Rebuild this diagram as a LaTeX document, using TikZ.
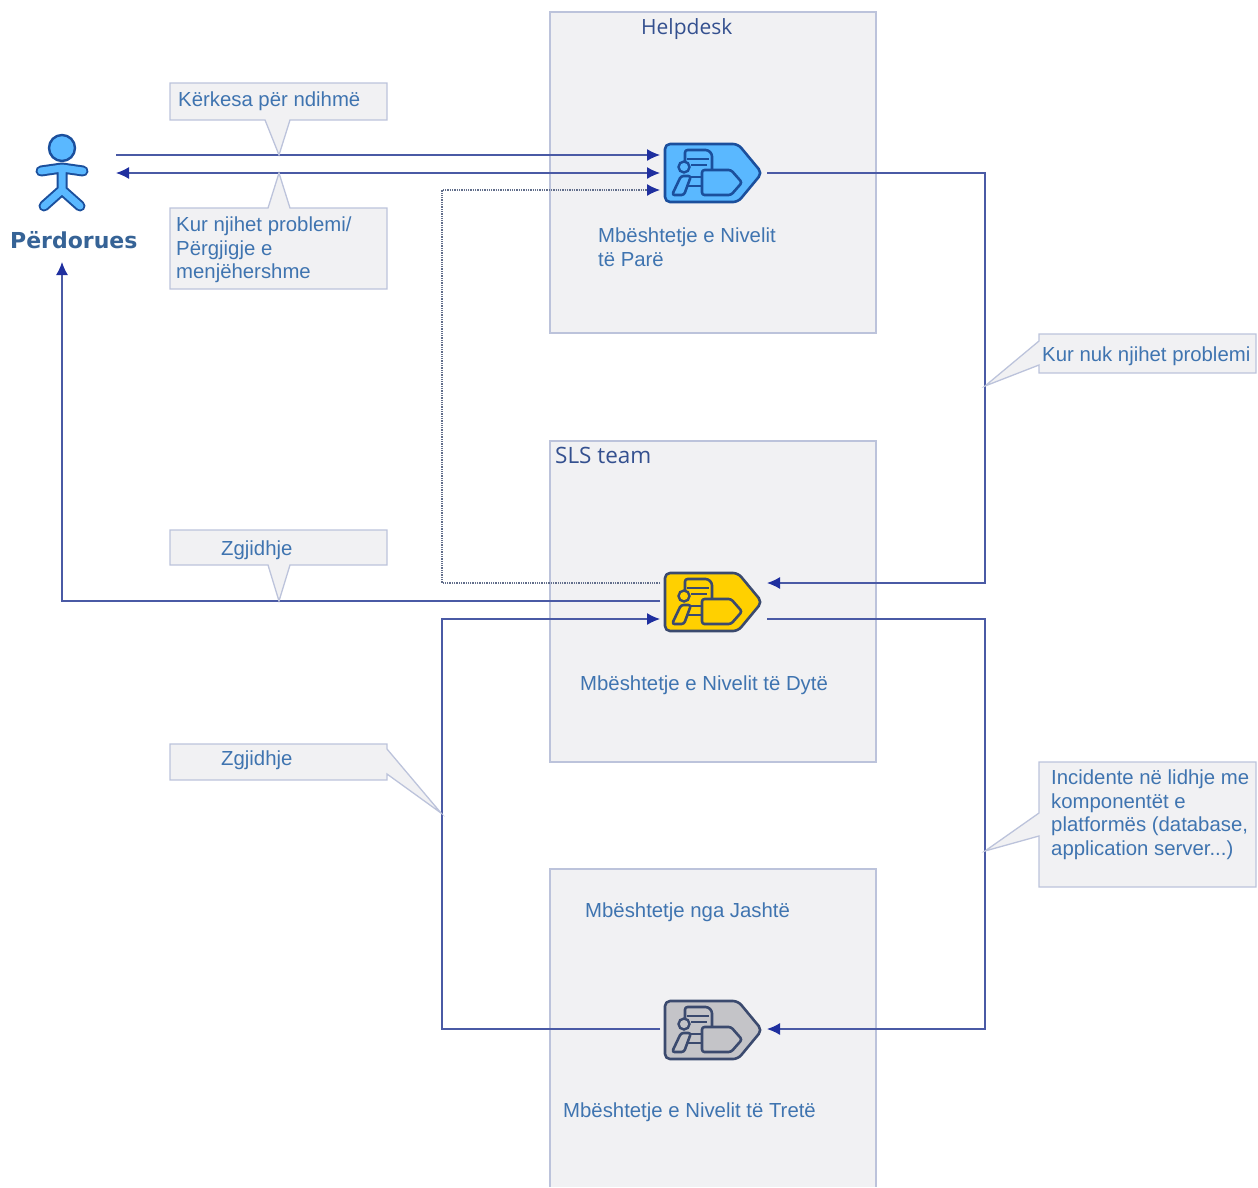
\documentclass[tikz,border=0pt]{standalone}
\usepackage{fontspec}
\setmainfont{Liberation Sans}
\newfontfamily\headfont{Open Sans}
\newfontfamily\userfont{DejaVu Sans}
\usetikzlibrary{arrows.meta}
\definecolor{txtblue}{HTML}{3F74B0}
\definecolor{headblue}{HTML}{34508F}
\definecolor{boxfill}{HTML}{F1F1F3}
\definecolor{boxline}{HTML}{BCC3DB}
\definecolor{wireblue}{HTML}{4A5AA5}
\definecolor{tipblue}{HTML}{1F2F9F}
\definecolor{iconblue}{HTML}{5AB8FF}
\definecolor{iconline}{HTML}{1B4F9C}
\definecolor{iconyellow}{HTML}{FFD000}
\definecolor{icongrey}{HTML}{C4C4C8}
\definecolor{darkline}{HTML}{3B4A6E}
\tikzset{
  x=1pt,y=-1pt,
  panel/.style={fill=boxfill,draw=boxline,line width=1.3pt},
  callout/.style={fill=boxfill,draw=boxline,line width=1.3pt,line join=miter},
  label/.style={text=txtblue,anchor=west,inner sep=0pt,font=\fontsize{20.35}{23.5}\selectfont,align=left},
  head/.style={text=headblue,anchor=west,inner sep=0pt,font=\headfont\fontsize{21}{24}\selectfont},
  wire/.style={draw=wireblue,line width=1.3pt},
  wiretip/.style={wire,-{Latex[length=13pt,width=12pt,color=tipblue]}},
  wiretwotips/.style={wire,{Latex[length=13pt,width=12pt,color=tipblue]}-{Latex[length=13pt,width=12pt,color=tipblue]}},
  dottedwire/.style={wire,densely dotted,draw=darkline!80!white,-{Latex[length=13pt,width=12pt,color=tipblue]}},
  iconbody/.style={line width=2.6pt,line join=round,rounded corners=2.5pt},
  pics/support/.style n args={2}{code={
    \draw[iconbody,fill=#1,draw=#2,rounded corners=5pt] (0,0) -- (73,0) -- (97,29) -- (73,58) -- (0,58) -- cycle;
    \draw[iconbody,draw=#2] (20,22) -- (20,6) -- (43,6) -- (47,10) -- (47,26);
    \draw[line width=2.2pt,draw=#2] (22,15) -- (44,15) (26,21) -- (42,21);
    \draw[line width=2.2pt,draw=#2] (25,33) -- (37,33) (22,42) -- (37,42);
    \draw[iconbody,draw=#2,fill=#1] (16,32) -- (7,51) -- (19,51) -- (26,32) -- cycle;
    \draw[line width=2.4pt,draw=#2,fill=#1] (19,23) circle[radius=5.5];
    \draw[iconbody,draw=#2,fill=#1] (37,26) -- (66,26) -- (77,38.5) -- (66,51) -- (37,51) -- cycle;
  }}
}
\begin{document}
\begin{tikzpicture}
\useasboundingbox (0,0) rectangle (1258,1187);
% panels
\path[panel] (550,12) rectangle (876,333);
\path[panel] (550,441) rectangle (876,762);
\draw[panel] (550,1187) -- (550,869) -- (876,869) -- (876,1187);
% anchors for the connectors
\coordinate (userR1) at (116,155);
\coordinate (userR2) at (116,173);
\coordinate (userB) at (62,262);
\coordinate (h1) at (660,155);
\coordinate (h2) at (660,173);
\coordinate (h3) at (660,190);
\coordinate (hOut) at (767,173);
\coordinate (s1) at (660,583);
\coordinate (s2) at (660,601);
\coordinate (s3) at (660,619);
\coordinate (sIn) at (767,583);
\coordinate (sOut) at (767,619);
\coordinate (tL) at (660,1029);
\coordinate (tIn) at (767,1029);
\coordinate (railR1) at (985,173);
\coordinate (railR2) at (985,619);
\coordinate (railL1) at (442,190);
\coordinate (railL2) at (442,619);
% connectors
\draw[wiretip] (userR1) -- (h1);
\draw[wiretwotips] (h2) -- (userR2);
\draw[dottedwire] (s1) -| (railL1) -- (h3);
\draw[wiretip] (hOut) -| (railR1) |- (sIn);
\draw[wiretip] (s2) -| (userB);
\draw[wiretip] (sOut) -| (railR2) |- (tIn);
\draw[wiretip] (tL) -| (railL2) -- (s3);
% icons
\pic at (665,144) {support={iconblue}{iconline}};
\pic at (665,573) {support={iconyellow}{darkline}};
\pic at (665,1001) {support={icongrey}{darkline}};
% person
\draw[iconline,line width=11pt,line cap=round,line join=round] (41,171) -- (62,168) -- (83,171) (62,168) -- (62,190) (44,206) -- (62,190) -- (80,206);
\draw[iconblue,line width=7pt,line cap=round,line join=round] (41,171) -- (62,168) -- (83,171) (62,168) -- (62,190) (44,206) -- (62,190) -- (80,206);
\draw[iconline,fill=iconblue,line width=2.4pt] (62,148) circle[radius=13];
\node[anchor=west,inner sep=0pt,text=txtblue!85!black,font=\userfont\bfseries\fontsize{22}{26}\selectfont] (user) at (10,240) {Përdorues};
% callouts
\draw[callout] (170,83) -- (387,83) -- (387,120) -- (290,120) -- (279,155) -- (265,120) -- (170,120) -- cycle;
\node[label] (c1) at (178,101) {Kërkesa për ndihmë};
\draw[callout] (170,208) -- (268,208) -- (279,173) -- (290,208) -- (387,208) -- (387,289) -- (170,289) -- cycle;
\node[label] (c2) at (176,250) {Kur njihet problemi/\\Përgjigje e\\menjëhershme};
\draw[callout] (170,530) -- (387,530) -- (387,565) -- (290,565) -- (279,601) -- (268,565) -- (170,565) -- cycle;
\node[label] (c3) at (221,550) {Zgjidhje};
\draw[callout] (170,744) -- (387,744) -- (387,749) -- (441,813) -- (387,774) -- (387,780) -- (170,780) -- cycle;
\node[label] (c4) at (221,760) {Zgjidhje};
\draw[callout] (1039,334) -- (1256,334) -- (1256,373) -- (1039,373) -- (1039,365) -- (985,386) -- (1039,341) -- cycle;
\node[label] (c5) at (1042,356) {Kur nuk njihet problemi};
\draw[callout] (1039,762) -- (1256,762) -- (1256,887) -- (1039,887) -- (1039,836) -- (985,851) -- (1039,813) -- cycle;
\node[label,anchor=north west] (c6) at (1051,770) {Incidente në lidhje me\\komponentët e\\platformës (database,\\application server...)};
% panel texts
\node[head] (pH) at (641,29) {Helpdesk};
\node[head,font=\headfont\fontsize{22.5}{26}\selectfont] (pS) at (555,455) {SLS team};
\node[label] (t1) at (598,247) {Mbështetje e Nivelit\\të Parë};
\node[label] (t2) at (580,685) {Mbështetje e Nivelit të Dytë};
\node[label] (t3) at (585,912) {Mbështetje nga Jashtë};
\node[label] (t4) at (563,1112) {Mbështetje e Nivelit të Tretë};
\end{tikzpicture}
\end{document}
